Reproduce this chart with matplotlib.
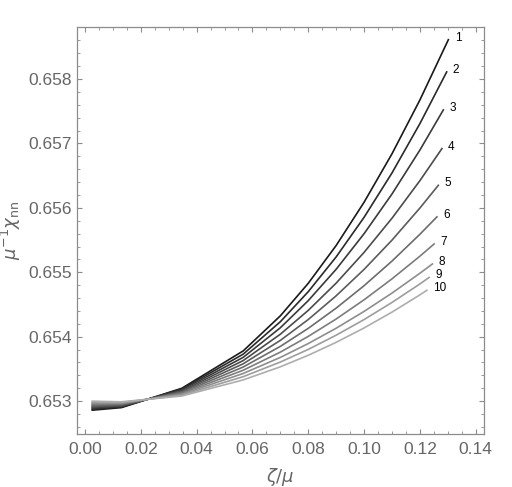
import matplotlib
matplotlib.use("Agg")
import matplotlib.pyplot as plt
from matplotlib.ticker import MultipleLocator

plt.rcParams['font.family'] = ['Liberation Sans', 'DejaVu Sans']
plt.rcParams['mathtext.fontset'] = 'dejavusans'

# shared zeta/mu grid (last point of each curve is in x_end)
x_grid = [0.0026, 0.0131, 0.0347, 0.0567, 0.07, 0.08, 0.09, 0.10, 0.11, 0.12]
x_end = [0.1302, 0.1296, 0.1284, 0.1279, 0.1266, 0.1261, 0.1251, 0.1245, 0.1233, 0.1225]

# mu^-1 chi_nn, one list per curve (grid points + end point)
y1 = [0.652860, 0.652900, 0.653200, 0.653780, 0.654324, 0.654829, 0.655416, 0.656087, 0.656839, 0.657674, 0.658610]
y2 = [0.652876, 0.652910, 0.653187, 0.653730, 0.654233, 0.654699, 0.655239, 0.655853, 0.656542, 0.657307, 0.658110]
y3 = [0.652891, 0.652920, 0.653173, 0.653680, 0.654139, 0.654560, 0.655047, 0.655599, 0.656215, 0.656897, 0.657520]
y4 = [0.652907, 0.652930, 0.653160, 0.653630, 0.654039, 0.654409, 0.654832, 0.655309, 0.655839, 0.656422, 0.656920]
y5 = [0.652922, 0.652940, 0.653147, 0.653580, 0.653943, 0.654267, 0.654635, 0.655045, 0.655499, 0.655997, 0.656350]
y6 = [0.652938, 0.652950, 0.653133, 0.653530, 0.653850, 0.654130, 0.654444, 0.654792, 0.655174, 0.655590, 0.655860]
y7 = [0.652953, 0.652960, 0.653120, 0.653480, 0.653761, 0.654005, 0.654275, 0.654573, 0.654898, 0.655250, 0.655440]
y8 = [0.652969, 0.652970, 0.653107, 0.653430, 0.653679, 0.653894, 0.654132, 0.654393, 0.654677, 0.654985, 0.655130]
y9 = [0.652984, 0.652980, 0.653093, 0.653380, 0.653607, 0.653803, 0.654024, 0.654266, 0.654532, 0.654819, 0.654920]
y10 = [0.653000, 0.652990, 0.653080, 0.653330, 0.653533, 0.653712, 0.653913, 0.654136, 0.654382, 0.654650, 0.654720]

curves = [y1, y2, y3, y4, y5, y6, y7, y8, y9, y10]
labels = ["1", "2", "3", "4", "5", "6", "7", "8", "9", "10"]

fig = plt.figure(figsize=(5.12, 4.87), dpi=100)
ax = fig.add_axes([0.1498, 0.1088, 0.7961, 0.8364])

n = len(curves)
for i, ys in enumerate(curves):
    xs = x_grid + [x_end[i]]
    g = 0.1 + 0.58 * i / (n - 1)
    ax.plot(xs, ys, color=(g, g, g), lw=1.2)
    ax.annotate(labels[i], (xs[-1], ys[-1]), xytext=(4.5, 1.5),
                textcoords="offset points", ha="left", va="center",
                fontsize=8.5, color="black")

ax.set_xlim(-0.00297, 0.14308)
ax.set_ylim(0.65249, 0.658812)

ax.xaxis.set_major_locator(MultipleLocator(0.02))
ax.xaxis.set_minor_locator(MultipleLocator(0.005))
ax.yaxis.set_major_locator(MultipleLocator(0.001))
ax.yaxis.set_minor_locator(MultipleLocator(0.0002))
ax.xaxis.set_major_formatter(matplotlib.ticker.FormatStrFormatter("%.2f"))
ax.yaxis.set_major_formatter(matplotlib.ticker.FormatStrFormatter("%.3f"))

gray = "#8c8c8c"
for s in ax.spines.values():
    s.set_color(gray)
    s.set_linewidth(0.9)
ax.tick_params(which="both", direction="in", top=True, right=True, color=gray,
               labelcolor="#666666", labelsize=12.5)
ax.tick_params(which="major", length=3.5, width=0.8)
ax.tick_params(which="minor", length=2, width=0.6)
ax.tick_params(axis="x", pad=6)

ax.set_xlabel(r"$\zeta/\mu$", fontsize=13, color="#666666", labelpad=6)
ax.set_ylabel(r"$\mu^{-1}\chi_{\mathrm{nn}}$", fontsize=13, color="#666666", labelpad=4)

fig.savefig("out.png", dpi=100)
